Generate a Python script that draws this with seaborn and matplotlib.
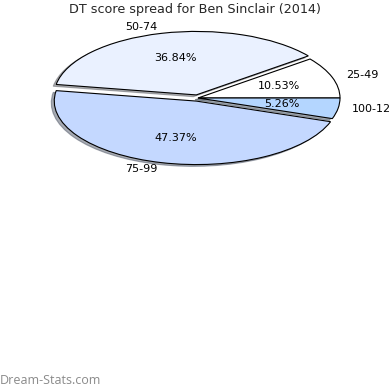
import matplotlib
matplotlib.use("Agg")
import matplotlib.pyplot as plt
import seaborn as sns

sns.set_style("white")
plt.rcParams['font.family'] = ['DejaVu Sans']

categories = ["25-49", "50-74", "75-99", "100-124"]
values = [2, 7, 9, 1]
colors = ["#FFFFFF", "#EAF1FF", "#C4D8FF", "#B4D6FF"]
explode = [0, 0.05, 0.05, 0]

title = "DT score spread for Ben Sinclair (2014)"

fig = plt.figure(figsize=(3.9, 3.9), dpi=100)
ax = fig.add_axes([0, 0, 1, 1])
ax.pie(values, labels=categories, colors=colors, explode=explode,
       autopct="%.2f%%", startangle=0, counterclock=True,
       shadow=dict(ox=-0.015, oy=-0.02, shade=0.6),
       pctdistance=0.6, labeldistance=1.1,
       wedgeprops=dict(edgecolor="black", linewidth=0.8),
       textprops=dict(fontsize=8, color="black"))

rx, ry = 142.0, 63.5
cx, cy_top = 198.0, 98.0
xmin = -cx / rx
ax.set_xlim(xmin, xmin + 390 / rx)
ymin = -(390 - cy_top) / ry
ax.set_ylim(ymin, ymin + 390 / ry)
ax.set_aspect("auto")
ax.axis("off")

fig.text(0.5, 1 - 10 / 390, title, ha="center", va="center", fontsize=9.2)
fig.text(0.0, 1 - 380 / 390, "Dream-Stats.com", ha="left", va="center",
         fontsize=9, color="#8a8a8a", family=["Open Sans", "DejaVu Sans"])

fig.savefig("out.png", dpi=100)
